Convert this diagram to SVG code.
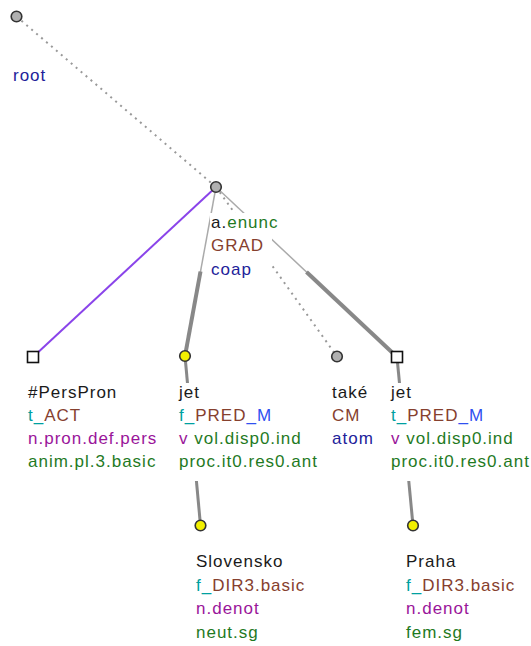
<svg xmlns="http://www.w3.org/2000/svg" width="531" height="646" viewBox="0 0 531 646">
<style>
text{font-family:"Liberation Sans",Arial,sans-serif;font-size:17px;letter-spacing:1px}
.k{fill:#1a1a1a}.te{fill:#00a0a0}.br{fill:#86402e}.bl{fill:#22229a}.bb{fill:#3050f0}.pu{fill:#9a159a}.gr{fill:#1f7a1f}
.bg{fill:#fff}
.dot{stroke:#999;stroke-width:2;stroke-dasharray:2 4.5;fill:none}
.thin{stroke:#aaa;stroke-width:1.5}
.thick{stroke:#888;stroke-width:4}
.ch{stroke:#888;stroke-width:3}
.gc{fill:#b0b0b0;stroke:#333;stroke-width:1.6}
.yc{fill:#f2f000;stroke:#333;stroke-width:1.6}
.sq{fill:#fff;stroke:#111;stroke-width:1.6}
</style>
<g id="edges">
<line class="dot" x1="16.5" y1="16.5" x2="216" y2="187"/>
<line stroke="#8a44ea" stroke-width="2" x1="216" y1="187" x2="33" y2="357"/>
<line class="thin" x1="216" y1="187" x2="185" y2="356"/>
<line class="thick" x1="200.5" y1="271.5" x2="185" y2="356"/>
<line class="dot" x1="216" y1="187" x2="337" y2="356.5"/>
<line class="thin" x1="216" y1="187" x2="397" y2="357"/>
<line class="thick" x1="306.5" y1="272" x2="397" y2="357"/>
<line class="ch" x1="185" y1="356" x2="200.5" y2="525.5"/>
<line class="ch" x1="397" y1="357" x2="413" y2="525.5"/>
</g>
<g id="root">
<circle class="gc" cx="16.5" cy="16.5" r="5.3"/>
<text x="13" y="81" class="bl">root</text>
</g>
<g id="coap">
<rect class="bg" x="210" y="213" width="62" height="76"/>
<text x="211" y="228"><tspan class="k">a.</tspan><tspan class="gr">enunc</tspan></text>
<text x="211" y="251" class="br">GRAD</text>
<text x="211" y="275" class="bl">coap</text>
<circle class="gc" cx="216" cy="187" r="5.3"/>
</g>
<g id="perspron">
<rect class="bg" x="27" y="383" width="135" height="98"/>
<text x="28" y="398" class="k">#PersPron</text>
<text x="28" y="421"><tspan class="te">t_</tspan><tspan class="br">ACT</tspan></text>
<text x="28" y="444" class="pu">n.pron.def.pers</text>
<text x="28" y="467" class="gr">anim.pl.3.basic</text>
<rect class="sq" x="27.5" y="351.5" width="11" height="11"/>
</g>
<g id="jet1">
<rect class="bg" x="178" y="383" width="142" height="98"/>
<text x="179" y="398" class="k">jet</text>
<text x="179" y="421"><tspan class="te">f_</tspan><tspan class="br">PRED</tspan><tspan class="bb">_M</tspan></text>
<text x="179" y="444"><tspan class="pu">v </tspan><tspan class="gr">vol.disp0.ind</tspan></text>
<text x="179" y="467" class="gr">proc.it0.res0.ant</text>
<circle class="yc" cx="185" cy="356" r="5.3"/>
</g>
<g id="take">
<rect class="bg" x="331" y="383" width="50" height="76"/>
<text x="332" y="398" class="k">také</text>
<text x="332" y="421" class="br">CM</text>
<text x="332" y="444" class="bl">atom</text>
<circle class="gc" cx="337" cy="356.5" r="5.3"/>
</g>
<g id="jet2">
<rect class="bg" x="390" y="383" width="141" height="98"/>
<text x="391" y="398" class="k">jet</text>
<text x="391" y="421"><tspan class="te">t_</tspan><tspan class="br">PRED</tspan><tspan class="bb">_M</tspan></text>
<text x="391" y="444"><tspan class="pu">v </tspan><tspan class="gr">vol.disp0.ind</tspan></text>
<text x="391" y="467" class="gr">proc.it0.res0.ant</text>
<rect class="sq" x="391.5" y="351.5" width="11" height="11"/>
</g>
<g id="slovensko">
<text x="196" y="567" class="k">Slovensko</text>
<text x="196" y="591"><tspan class="te">f_</tspan><tspan class="br">DIR3.basic</tspan></text>
<text x="196" y="614" class="pu">n.denot</text>
<text x="196" y="638" class="gr">neut.sg</text>
<circle class="yc" cx="200.5" cy="525.5" r="5.3"/>
</g>
<g id="praha">
<text x="406" y="567" class="k">Praha</text>
<text x="406" y="591"><tspan class="te">f_</tspan><tspan class="br">DIR3.basic</tspan></text>
<text x="406" y="614" class="pu">n.denot</text>
<text x="406" y="638" class="gr">fem.sg</text>
<circle class="yc" cx="413" cy="525.5" r="5.3"/>
</g>
</svg>
